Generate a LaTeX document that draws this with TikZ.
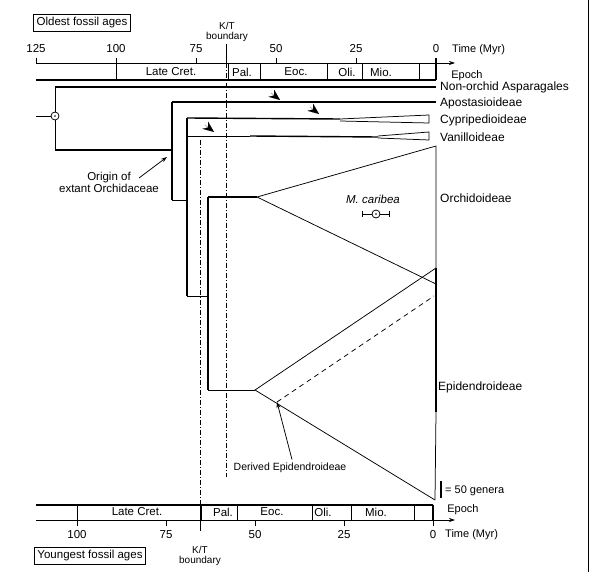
\documentclass[tikz,border=0pt]{standalone}
\usepackage{fontspec}
\setmainfont{Liberation Sans}
\usetikzlibrary{arrows.meta}

\begin{document}
\begin{tikzpicture}[x=1pt,y=-1pt,
    font=\fontsize{11.5}{12}\selectfont,
    branch/.style={line width=1.4pt},
    twig/.style={line width=0.75pt},
    ktline/.style={line width=0.8pt, dash pattern=on 5pt off 2pt on 1pt off 2pt},
    fossil/.style={-{Stealth[length=11pt,width=9pt]}, line width=0.1pt},
    lbl/.style={anchor=west, inner sep=0pt, font=\fontsize{12}{12}\selectfont},
    boxlbl/.style={draw, line width=0.75pt, inner sep=3pt}]

  \useasboundingbox (0,0) rectangle (591,572);

  % Frame
  \draw[twig] (588,0) -- (588,572);

  % Top time scale (oldest fossil ages)
  \node[boxlbl] (oldest) at (82,23) {Oldest fossil ages};
  \draw[twig, -{Stealth[length=6pt,width=4pt]}] (36,63) -- (455,63);
  \foreach \t in {125,100,75,50,25,0} {
    \draw[twig] ({436-3.2*\t},58) -- ({436-3.2*\t},63);
    \node (top\t) at ({436-3.2*\t},49) {\t};
  }
  \node[lbl, font=\fontsize{11}{12}\selectfont] (toptime) at (452,50) {Time (Myr)};
  \draw[branch] (36,80) -- (436,80);
  \draw[branch] (436,58) -- (436,80);
  \foreach \b in {100,65,55,34,23,5.3}
    \draw[twig] ({436-3.2*\b},63) -- ({436-3.2*\b},80);
  \foreach \e/\x in {Late Cret./171,Pal./242,Eoc./296,Oli./347,Mio./381}
    \node at (\x,72) {\e};
  \node[font=\fontsize{11}{12}\selectfont] (topepoch) at (467,76) {Epoch};

  % K/T boundary, top scale
  \node[font=\fontsize{10}{10}\selectfont, align=center] (kttop) at (227,32) {K/T\\boundary};
  \coordinate (kta) at (226,44);
  \coordinate (ktb) at (226,477);
  \draw[twig] (kta) -- (226,63);
  \draw[ktline] (226,63) -- (ktb);

  % Bottom time scale (youngest fossil ages)
  \draw[branch] (36,505) -- (433,505);
  \draw[twig, -{Stealth[length=6pt,width=4pt]}] (36,520) -- (455,520);
  \foreach \t in {100,75,50,25,0} {
    \draw[twig] ({433-3.56*\t},520) -- ({433-3.56*\t},526);
    \node (bot\t) at ({433-3.56*\t},535) {\t};
  }
  \draw[branch] (433,505) -- (433,520);
  \foreach \b in {100,65,55,34,23,5.3}
    \draw[twig] ({433-3.56*\b},505) -- ({433-3.56*\b},520);
  \foreach \e/\x in {Late Cret./137,Pal./223,Eoc./272,Oli./323,Mio./376}
    \node at (\x,512) {\e};
  \node[font=\fontsize{11}{12}\selectfont] (botepoch) at (463,510) {Epoch};
  \node[lbl, font=\fontsize{11}{12}\selectfont] (bottime) at (445,535) {Time (Myr)};
  \node[boxlbl] (youngest) at (90,556) {Youngest fossil ages};

  % K/T boundary, bottom scale
  \node[font=\fontsize{10}{10}\selectfont, align=center] (ktbot) at (200,556) {K/T\\boundary};
  \coordinate (ktc) at (200,140);
  \coordinate (ktd) at (200,531);
  \draw[ktline] (ktc) -- (200,505);
  \draw[twig] (200,505) -- (ktd);

  % Tree points
  \coordinate (stem) at (36,116);
  \coordinate (root) at (55,116);
  \coordinate (ra) at (55,87);
  \coordinate (rb) at (55,150);
  \coordinate (oa) at (172,150);
  \coordinate (ob) at (172,102);
  \coordinate (oc) at (172,200);
  \coordinate (va) at (187,200);
  \coordinate (vb) at (187,118);
  \coordinate (vc) at (187,136);
  \coordinate (vd) at (187,296);
  \coordinate (ea) at (208,296);
  \coordinate (eb) at (208,197);
  \coordinate (ec) at (208,390);
  \coordinate (orch) at (257,197);
  \coordinate (epid) at (255,390);

  % Branches
  \draw[twig] (stem) -- (51,116);
  \draw[twig] (root) circle (4);
  \fill (root) circle (0.8);
  \draw[twig] (ra) -- (55,112) (55,120) -- (rb);
  \draw[branch] (ra) -- (436,87);
  \draw[branch] (rb) -- (oa);
  \draw[branch] (ob) -- (oc);
  \draw[branch] (ob) -- (436,102);
  \draw[twig] (oc) -- (va);
  \draw[branch] (vb) -- (vd);
  \draw[branch] (vb) -- (340,119);
  \draw[twig] (340,119) -- (429,115) -- (429,123) -- (340,121);
  \draw[twig] (vc) -- (250,136);
  \draw[branch] (250,136) -- (378,137);
  \draw[twig] (378,136) -- (429,132) -- (429,140) -- (378,138);
  \draw[twig] (vd) -- (ea);
  \draw[branch] (eb) -- (ec);
  \draw[branch] (eb) -- (orch);
  \draw[twig] (ec) -- (epid);

  % Clades
  \draw[twig] (436,146) -- (orch) -- (436,284) -- cycle;
  \draw[twig] (436,268) -- (epid) -- (435,500);
  \draw[branch] (436,268) -- (436,412);
  \draw[twig] (436,412) -- (435,500);
  \coordinate (derived) at (277,402);
  \draw[twig, dashed, dash pattern=on 5pt off 4pt] (derived) -- (434,296);

  % Fossil calibrations
  \foreach \tx/\ty in {280/100,319/114,214/132}
    \draw[fossil] ({\tx-9},{\ty-7}) -- (\tx,\ty);

  % Clade names
  \node[lbl] (asp) at (440,87) {Non-orchid Asparagales};
  \node[lbl] (apo) at (440,103) {Apostasioideae};
  \node[lbl] (cyp) at (440,120) {Cypripedioideae};
  \node[lbl] (van) at (440,137) {Vanilloideae};
  \node[lbl] (orn) at (440,198) {Orchidoideae};
  \node[lbl] (epn) at (438,387) {Epidendroideae};

  % Fossil
  \node[font=\fontsize{11.5}{12}\selectfont\itshape] (carib) at (373,199) {M. caribea};
  \coordinate (fos) at (376,214);
  \draw[twig] (fos) circle (4);
  \fill (fos) circle (0.9);
  \draw[twig] (362,214) -- (372,214) (380,214) -- (389,214);
  \draw[twig] (362,211) -- (362,217) (389,211) -- (389,217);

  % Annotations
  \node[align=center] (origin) at (109,182) {Origin of\\extant Orchidaceae};
  \coordinate (origintip) at (167,157);
  \draw[twig, -{Stealth[length=6pt,width=4pt]}] (139,178) -- (origintip);
  \node[font=\fontsize{10.5}{12}\selectfont] (derlbl) at (290,468) {Derived Epidendroideae};
  \draw[twig, -{Stealth[length=6pt,width=4pt]}] (derlbl.north) ++(2,0) -- (derived);

  % Scale bar
  \draw[line width=2.2pt] (441,481) -- (441,498);
  \node[lbl, font=\fontsize{11}{12}\selectfont] (scale) at (445,491) {= 50 genera};
\end{tikzpicture}
\end{document}
